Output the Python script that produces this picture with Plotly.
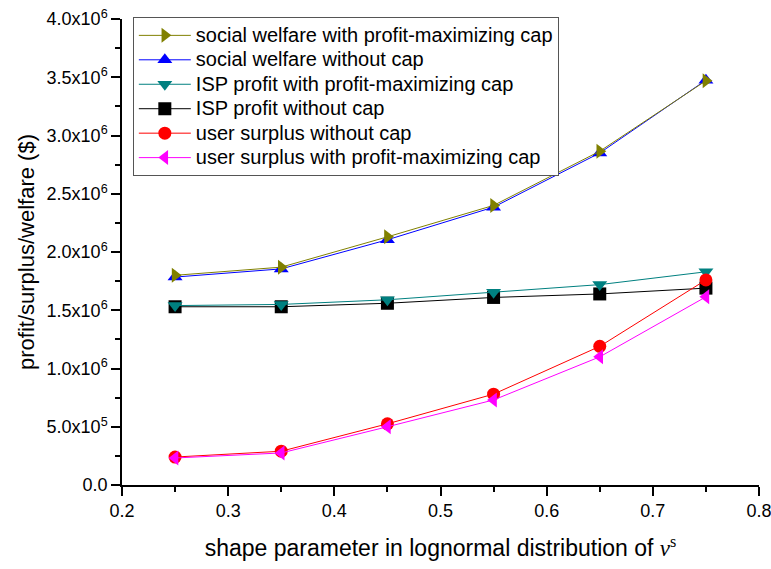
import plotly.graph_objects as go

# shape parameter values
shape = [0.25, 0.35, 0.45, 0.55, 0.65, 0.75]

sw_cap = [1.80e6, 1.87e6, 2.13e6, 2.40e6, 2.865e6, 3.47e6]
sw_nocap = [1.785e6, 1.855e6, 2.105e6, 2.385e6, 2.85e6, 3.475e6]
isp_cap = [1.54e6, 1.55e6, 1.59e6, 1.655e6, 1.72e6, 1.83e6]
isp_nocap = [1.53e6, 1.53e6, 1.56e6, 1.61e6, 1.64e6, 1.69e6]
us_nocap = [0.24e6, 0.29e6, 0.525e6, 0.78e6, 1.19e6, 1.76e6]
us_cap = [0.232e6, 0.275e6, 0.50e6, 0.73e6, 1.10e6, 1.615e6]

x_ticks = [0.2, 0.3, 0.4, 0.5, 0.6, 0.7, 0.8]
y_ticks = [0, 0.5e6, 1.0e6, 1.5e6, 2.0e6, 2.5e6, 3.0e6, 3.5e6, 4.0e6]
y_tick_text = ["0.0", "5.0x10<sup>5</sup>", "1.0x10<sup>6</sup>", "1.5x10<sup>6</sup>",
               "2.0x10<sup>6</sup>", "2.5x10<sup>6</sup>", "3.0x10<sup>6</sup>",
               "3.5x10<sup>6</sup>", "4.0x10<sup>6</sup>"]

# (name, values, colour, marker symbol, legend rank) -- listed in drawing order
series = [
    ("social welfare without cap", sw_nocap, "#0000FF", "triangle-up", 2),
    ("social welfare with profit-maximizing cap", sw_cap, "#808000", "triangle-right", 1),
    ("ISP profit without cap", isp_nocap, "#000000", "square", 4),
    ("ISP profit with profit-maximizing cap", isp_cap, "#008080", "triangle-down", 3),
    ("user surplus without cap", us_nocap, "#FF0000", "circle", 5),
    ("user surplus with profit-maximizing cap", us_cap, "#FF00FF", "triangle-left", 6),
]

fig = go.Figure()
for name, vals, color, sym, rank in series:
    fig.add_trace(go.Scatter(
        x=shape, y=vals, mode="lines+markers",
        # bigger text in the legend while keeping the row spacing tight
        name=f"<span style='font-size:20px'>{name}</span>",
        line=dict(color=color, width=1),
        marker=dict(symbol=sym, color=color, size=13, line=dict(width=0)),
        legendrank=rank,
    ))

axis_common = dict(
    showline=True, linecolor="black", linewidth=1.5,
    ticks="outside", tickcolor="black", ticklen=9, tickwidth=1.5,
    showgrid=False, zeroline=False, mirror=False,
    tickfont=dict(size=18, color="black"),
    ticklabeloverflow="allow",
)

fig.update_xaxes(
    range=[0.2, 0.8], tickvals=x_ticks, ticktext=[f"{v:.1f}" for v in x_ticks],
    minor=dict(ticks="outside", dtick=0.05, ticklen=5, tickcolor="black", tickwidth=1.5),
    title=dict(text="shape parameter in lognormal distribution of "
                    "<span style='font-family:Liberation Serif'><i>v</i><sup>s</sup></span>",
               font=dict(size=23, color="black"), standoff=20),
    **axis_common,
)
fig.update_yaxes(
    range=[0, 4.0e6], tickvals=y_ticks, ticktext=y_tick_text,
    minor=dict(ticks="outside", dtick=0.25e6, ticklen=5, tickcolor="black", tickwidth=1.5),
    title=dict(text="profit/surplus/welfare ($)", font=dict(size=22, color="black"), standoff=6),
    **axis_common,
)

fig.update_layout(
    width=771, height=569,
    margin=dict(l=122, r=12, t=19, b=84, autoexpand=False),
    paper_bgcolor="white", plot_bgcolor="white",
    font=dict(family="Liberation Sans, Arial, sans-serif", color="black"),
    legend=dict(
        x=0.017, y=1.004, xanchor="left", yanchor="top",
        bgcolor="white", bordercolor="#555555", borderwidth=1,
        font=dict(size=16.5, color="black"),
        tracegroupgap=0, itemwidth=52,
    ),
)

# drop the default page margin so the figure fills the window exactly
fig.write_html("out.html",
               config={"displayModeBar": False},
               post_script="document.body.style.margin='0';"
                           "document.body.style.overflow='hidden';")
